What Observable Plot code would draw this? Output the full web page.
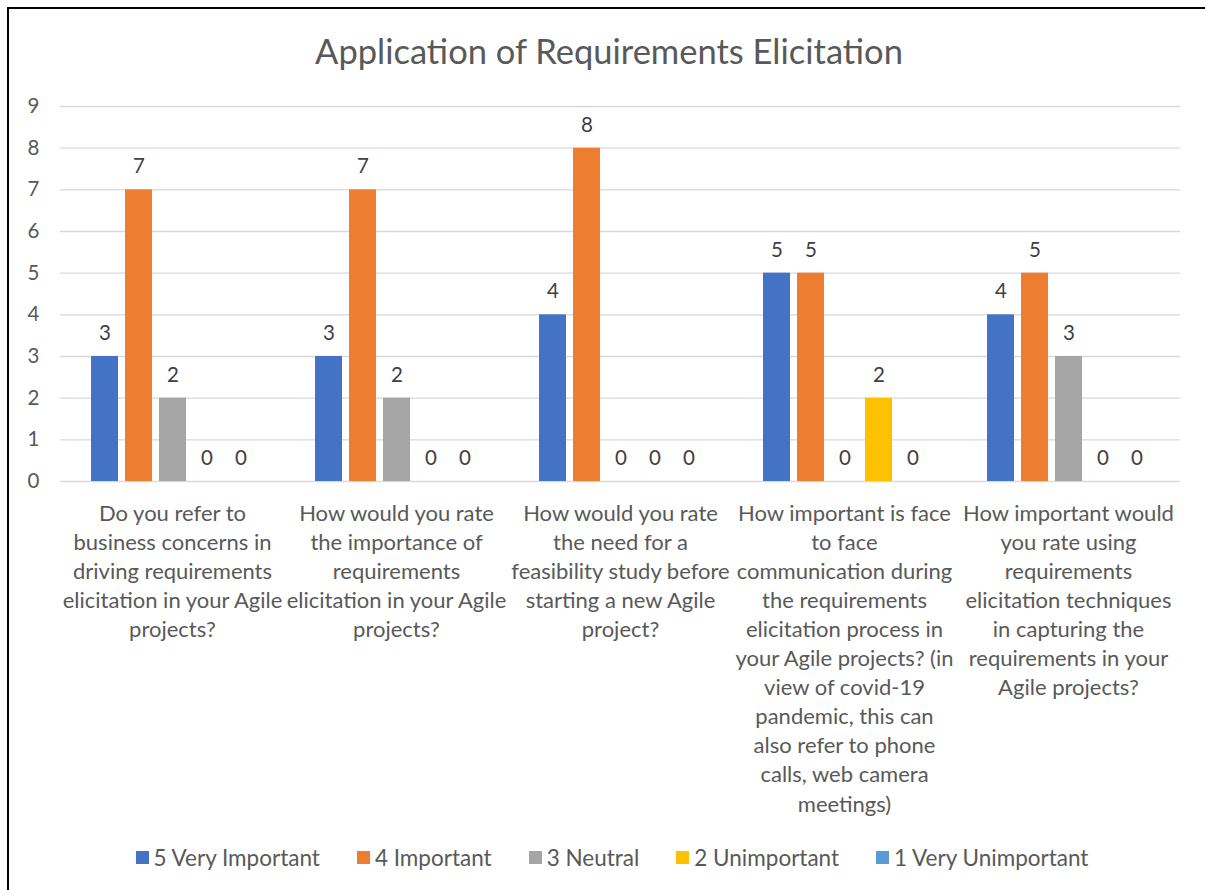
<!DOCTYPE html>
<html>
<head>
<meta charset="utf-8">
<script src="https://cdn.jsdelivr.net/npm/d3@7"></script>
<script src="https://cdn.jsdelivr.net/npm/@observablehq/plot@0.6"></script>
<style>
  body { margin: 0; background: #fff; font-family: Lato, "Open Sans", sans-serif; }
  #frame { position: relative; width: 1205px; height: 890px; overflow: hidden; }
  #border { position: absolute; left: 7px; top: 7px; right: -10px; bottom: -10px;
            border-left: 2px solid #000; border-top: 2px solid #000; }
  #title { position: absolute; top: 30px; left: 0; width: 1218px; text-align: center;
           font-size: 34.5px; color: #595959; }
  #chart { position: absolute; left: 0; top: 80px; }
  #legend { position: absolute; top: 844px; left: 0; width: 1224px; display: flex;
            justify-content: center; gap: 37px; font-size: 22.5px; color: #595959; }
  #legend .item { display: flex; align-items: center; gap: 5px; }
  #legend .sw { width: 13px; height: 13px; display: inline-block; }
</style>
</head>
<body>
<div id="frame">
  <div id="border"></div>
  <div id="title">Application of Requirements Elicitation</div>
  <div id="chart"></div>
  <div id="legend"></div>
</div>
<script>
// Survey questions (category keys and their wrapped axis labels)
const questions = ["Q1", "Q2", "Q3", "Q4", "Q5"];
const questionLabels = [
  "Do you refer to\nbusiness concerns in\ndriving requirements\nelicitation in your Agile\nprojects?",
  "How would you rate\nthe importance of\nrequirements\nelicitation in your Agile\nprojects?",
  "How would you rate\nthe need for a\nfeasibility study before\nstarting a new Agile\nproject?",
  "How important is face\nto face\ncommunication during\nthe requirements\nelicitation process in\nyour Agile projects? (in\nview of covid-19\npandemic, this can\nalso refer to phone\ncalls, web camera\nmeetings)",
  "How important would\nyou rate using\nrequirements\nelicitation techniques\nin capturing the\nrequirements in your\nAgile projects?"
];

// Rating series and response counts per question
const series = ["5 Very Important", "4 Important", "3 Neutral", "2 Unimportant", "1 Very Unimportant"];
const colors = ["#4472C4", "#ED7D31", "#A5A5A5", "#FFC000", "#5B9BD5"];
const veryImportant   = [3, 3, 4, 5, 4];
const important       = [7, 7, 8, 5, 5];
const neutral         = [2, 2, 0, 0, 3];
const unimportant     = [0, 0, 0, 2, 0];
const veryUnimportant = [0, 0, 0, 0, 0];
const yTicks = [0, 1, 2, 3, 4, 5, 6, 7, 8, 9];

const seriesValues = [veryImportant, important, neutral, unimportant, veryUnimportant];
const rows = [];
questions.forEach((q, i) => {
  series.forEach((s, j) => rows.push({ q, series: s, value: seriesValues[j][i] }));
});

const labelOf = new Map(questions.map((q, i) => [q, questionLabels[i]]));

const chart = Plot.plot({
  width: 1205,
  height: 740,
  marginLeft: 58,
  marginRight: 23,
  marginTop: 26,
  marginBottom: 339,
  style: { fontFamily: "Lato, 'Open Sans', sans-serif", background: "transparent", overflow: "visible" },
  fx: { domain: questions, padding: 0 },
  x: { domain: series, paddingInner: 0.22, paddingOuter: 0.887, axis: null },
  y: { domain: [0, 9], axis: null },
  color: { domain: series, range: colors },
  marks: [
    Plot.gridY(yTicks, { stroke: "#D9D9D9", strokeOpacity: 1, strokeWidth: 1.4 }),
    Plot.axisY(yTicks, {
      anchor: "left", tickSize: 0, tickPadding: 21, fontSize: 20.5, color: "#595959",
      label: null, facetAnchor: "left"
    }),
    Plot.barY(rows, { fx: "q", x: "series", y: "value", fill: "series" }),
    Plot.text(rows, {
      fx: "q", x: "series", y: "value", text: "value",
      dy: -23, fontSize: 20.5, fill: "#404040"
    }),
    Plot.axisFx({
      anchor: "bottom", tickSize: 0, tickPadding: 19, fontSize: 22, lineHeight: 1.32,
      color: "#595959", label: null, lineAnchor: "top",
      tickFormat: d => labelOf.get(d)
    })
  ]
});
document.getElementById("chart").appendChild(chart);

// Legend row under the chart
const legend = document.getElementById("legend");
series.forEach((s, i) => {
  const item = document.createElement("div");
  item.className = "item";
  const sw = document.createElement("span");
  sw.className = "sw";
  sw.style.background = colors[i];
  const label = document.createElement("span");
  label.textContent = s;
  item.appendChild(sw);
  item.appendChild(label);
  legend.appendChild(item);
});
</script>
</body>
</html>
